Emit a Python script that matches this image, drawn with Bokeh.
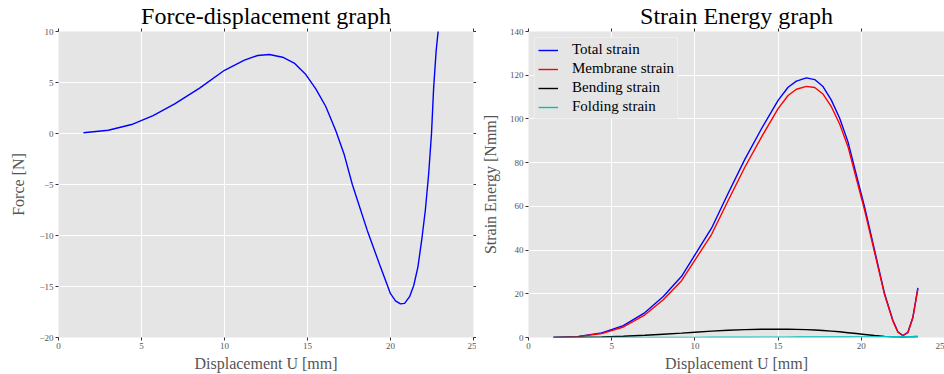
from bokeh.plotting import figure
from bokeh.layouts import row
from bokeh.models import LinearAxis, FixedTicker, Range1d, Legend, LegendItem
from bokeh.embed import file_html
from bokeh.resources import INLINE

FONT = "Liberation Serif"

# Force-displacement response
displacement_f = [1.5, 3.0, 4.4, 5.7, 7.0, 8.5, 10.0, 11.2, 12.0, 12.7, 13.5, 14.2,
                  14.9, 15.5, 16.1, 16.7, 17.2, 17.7, 18.6, 19.4, 20.0, 20.3, 20.6,
                  20.85, 21.15, 21.4, 21.65, 21.9, 22.1, 22.3, 22.47, 22.6, 22.75,
                  22.9, 23.4]
force = [0.07, 0.32, 0.88, 1.76, 2.9, 4.45, 6.2, 7.2, 7.65, 7.75, 7.48, 6.9,
         5.78, 4.38, 2.65, 0.29, -2.0, -5.0, -9.5, -13.1, -15.7, -16.4, -16.7,
         -16.65, -16.0, -14.9, -13.1, -10.2, -7.5, -3.95, 0.0, 4.5, 8.1,
         10.5, 40.0]

# Strain energy components
displacement_e = [1.5, 3.0, 4.4, 5.7, 7.0, 8.1, 9.2, 10.0, 11.0, 12.0, 13.0, 14.0,
                  15.0, 15.6, 16.1, 16.7, 17.2, 17.7, 18.2, 18.7, 19.2, 19.7, 20.2,
                  20.8, 21.4, 21.9, 22.2, 22.5, 22.8, 23.1, 23.4]
total_strain = [0.0, 0.5, 2.1, 5.4, 11.4, 18.8, 28.0, 37.8, 50.0, 66.0, 81.5, 95.5,
                108.5, 114.5, 117.3, 118.8, 118.0, 114.8, 108.6, 100.3, 89.5, 74.5,
                59.6, 39.8, 20.0, 7.8, 2.6, 0.9, 2.4, 9.3, 22.7]
membrane_strain = [0.0, 0.4, 1.8, 4.8, 10.4, 17.3, 26.0, 35.4, 47.1, 62.7, 77.9, 91.7,
                   104.7, 110.7, 113.6, 114.9, 114.4, 111.4, 105.6, 97.7, 87.3, 72.7,
                   58.2, 38.9, 19.5, 7.5, 2.4, 0.8, 2.2, 9.0, 22.3]
bending_strain = [0.0, 0.1, 0.3, 0.6, 1.0, 1.5, 2.0, 2.4, 2.9, 3.3, 3.6, 3.8,
                  3.8, 3.75, 3.7, 3.6, 3.4, 3.2, 2.9, 2.6, 2.2, 1.8, 1.4,
                  0.9, 0.5, 0.25, 0.15, 0.1, 0.15, 0.2, 0.3]
folding_strain = [0.0, 0.0, 0.01, 0.02, 0.03, 0.05, 0.07, 0.08, 0.1, 0.12, 0.14, 0.16,
                  0.18, 0.19, 0.2, 0.21, 0.22, 0.23, 0.24, 0.25, 0.26, 0.27, 0.28,
                  0.3, 0.32, 0.34, 0.36, 0.38, 0.42, 0.48, 0.55]

x_ticks = [0, 5, 10, 15, 20, 25]
force_ticks = [-20, -15, -10, -5, 0, 5, 10]
energy_ticks = [0, 20, 40, 60, 80, 100, 120, 140]


def tick_text(v):
    return str(v).replace("-", "\u2212")


def style_axis(axis, ticks, show_labels=True):
    axis.ticker = FixedTicker(ticks=ticks)
    axis.major_tick_out = 3
    axis.major_tick_in = 0
    axis.major_tick_line_color = "#333333"
    axis.major_tick_line_width = 1
    axis.minor_tick_line_color = None
    axis.axis_line_color = None
    axis.major_label_text_font = FONT
    axis.major_label_text_color = "#555555"
    axis.axis_label_text_font = FONT
    axis.axis_label_text_font_style = "normal"
    axis.axis_label_text_color = "#555555"
    axis.axis_label_text_font_size = "16px"
    axis.major_label_text_font_size = "9px"
    if show_labels:
        axis.major_label_standoff = 2
        axis.major_label_overrides = {t: tick_text(t) for t in ticks}
    else:
        # tick marks only, no tick text
        axis.major_label_standoff = 0
        axis.major_label_overrides = {t: "" for t in ticks}


def make_figure(width, x_max, y_range, y_ticks, title, ylabel, border_left, border_right,
                right_axis, ylabel_standoff):
    p = figure(width=width, height=374, output_backend="svg", toolbar_location=None,
               x_range=Range1d(0, x_max), y_range=Range1d(*y_range),
               min_border_left=border_left, min_border_right=border_right,
               min_border_top=31, min_border_bottom=37)
    p.background_fill_color = "#e5e5e5"
    p.border_fill_color = "white"
    p.outline_line_color = None
    p.xgrid.ticker = FixedTicker(ticks=x_ticks)
    p.ygrid.ticker = FixedTicker(ticks=y_ticks)
    p.grid.grid_line_color = "white"
    p.grid.grid_line_width = 1

    style_axis(p.xaxis[0], x_ticks)
    style_axis(p.yaxis[0], y_ticks)
    p.xaxis[0].axis_label = "Displacement U [mm]"
    p.xaxis[0].axis_label_standoff = 3
    p.yaxis[0].axis_label = ylabel
    p.yaxis[0].axis_label_standoff = ylabel_standoff

    top = LinearAxis()
    style_axis(top, x_ticks, show_labels=False)
    p.add_layout(top, "above")
    if right_axis:
        rgt = LinearAxis()
        style_axis(rgt, y_ticks, show_labels=False)
        p.add_layout(rgt, "right")

    p.title.text = title
    p.title.align = "center"
    p.title.text_font = FONT
    p.title.text_font_style = "normal"
    p.title.text_font_size = "24px"
    p.title.text_color = "black"
    p.title.standoff = 0
    return p


left = make_figure(476, 25, (-20, 10), force_ticks, "Force-displacement graph",
                   "Force [N]", 58, 3, True, 9)
left.line(displacement_f, force, line_color="#0000ff", line_width=1.4)

right = make_figure(468, 25, (0, 140), energy_ticks, "Strain Energy graph",
                    "Strain Energy [Nmm]", 52, 0, False, 8)
series = [
    ("Total strain", total_strain, "#0000ff"),
    ("Membrane strain", membrane_strain, "#ff0000"),
    ("Bending strain", bending_strain, "#000000"),
    ("Folding strain", folding_strain, "#00bfbf"),
]
items = []
for name, values, color in series:
    r = right.line(displacement_e, values, line_color=color, line_width=1.4)
    items.append(LegendItem(label=name, renderers=[r]))

legend = Legend(items=items, location="top_left")
legend.background_fill_color = "#e5e5e5"
legend.background_fill_alpha = 1
legend.border_line_color = "#f7f7f7"
legend.border_line_width = 1
legend.label_text_font = FONT
legend.label_text_font_size = "15px"
legend.label_text_color = "black"
legend.glyph_width = 20
legend.glyph_height = 16
legend.label_height = 16
legend.spacing = 2
legend.padding = 3
legend.margin = 6
legend.label_standoff = 14
right.add_layout(legend)

layout = row(left, right, spacing=0)

with open("out.html", "w") as f:
    f.write(file_html(layout, INLINE))
